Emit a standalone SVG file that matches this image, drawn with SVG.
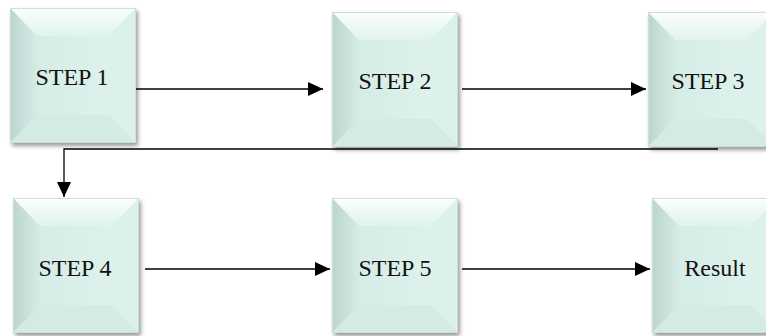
<svg xmlns="http://www.w3.org/2000/svg" width="766" height="336" viewBox="0 0 766 336">
<defs>
<linearGradient id="gl" x1="0" y1="0" x2="1" y2="0"><stop offset="0" stop-color="#bcd5cf"/><stop offset="1" stop-color="#d5ebe6"/></linearGradient>
<linearGradient id="gt" x1="0" y1="0" x2="0" y2="1"><stop offset="0" stop-color="#fbfefd"/><stop offset="1" stop-color="#e0f3ef"/></linearGradient>
<linearGradient id="gf" x1="0" y1="0" x2="1" y2="0"><stop offset="0" stop-color="#d6ece7"/><stop offset="1" stop-color="#ddf2ed"/></linearGradient>
<filter id="sh" x="-10%" y="-10%" width="130%" height="130%"><feGaussianBlur in="SourceAlpha" stdDeviation="2"/><feOffset dx="2" dy="3"/><feComponentTransfer><feFuncA type="linear" slope="0.4"/></feComponentTransfer><feMerge><feMergeNode/><feMergeNode in="SourceGraphic"/></feMerge></filter>
<marker id="ah" viewBox="0 0 15 14" refX="15" refY="7" markerWidth="15" markerHeight="14" markerUnits="userSpaceOnUse" orient="auto"><path d="M0,0 L15,7 L0,14 Z" fill="#000"/></marker>
<g id="bevel">
<rect x="0" y="0" width="126" height="135" fill="#dbf0eb"/>
<path d="M0,0 L126,0 L99,28 L27,28 Z" fill="url(#gt)"/>
<path d="M0,0 L27,28 L27,107 L0,135 Z" fill="url(#gl)"/>
<path d="M126,0 L126,135 L99,107 L99,28 Z" fill="#dcf1ec"/>
<path d="M0,135 L27,107 L99,107 L126,135 Z" fill="#d4eae5"/>
<rect x="27" y="28" width="72" height="79" fill="url(#gf)"/>
<rect x="0.5" y="0.5" width="125" height="134" fill="none" stroke="#cddfdb" stroke-width="1"/>
</g>
</defs>
<style>
.t{font-family:"Liberation Serif","DejaVu Serif",serif;font-size:24px;fill:#111;text-anchor:middle;}
.c{fill:none;stroke:#000;stroke-width:1.3;}
</style>
<g id="step1"><use href="#bevel" x="10" y="8" filter="url(#sh)"/><text class="t" x="72" y="85">STEP 1</text></g>
<g id="step2"><use href="#bevel" x="332" y="12" filter="url(#sh)"/><text class="t" x="395" y="89">STEP 2</text></g>
<g id="step3"><use href="#bevel" x="648" y="12" filter="url(#sh)"/><text class="t" x="708" y="89">STEP 3</text></g>
<g id="step4"><use href="#bevel" x="13" y="198" filter="url(#sh)"/><text class="t" x="75" y="276">STEP 4</text></g>
<g id="step5"><use href="#bevel" x="332" y="198" filter="url(#sh)"/><text class="t" x="395" y="276">STEP 5</text></g>
<g id="result"><use href="#bevel" x="652" y="198" filter="url(#sh)"/><text class="t" x="715" y="276">Result</text></g>
<g id="connectors">
<path class="c" d="M136,89 L323,89" marker-end="url(#ah)"/>
<path class="c" d="M462,89 L646,89" marker-end="url(#ah)"/>
<path class="c" d="M718,149 L64,149 L64,197" marker-end="url(#ah)"/>
<path class="c" d="M145,269 L330,269" marker-end="url(#ah)"/>
<path class="c" d="M462,269 L650,269" marker-end="url(#ah)"/>
</g>
</svg>
